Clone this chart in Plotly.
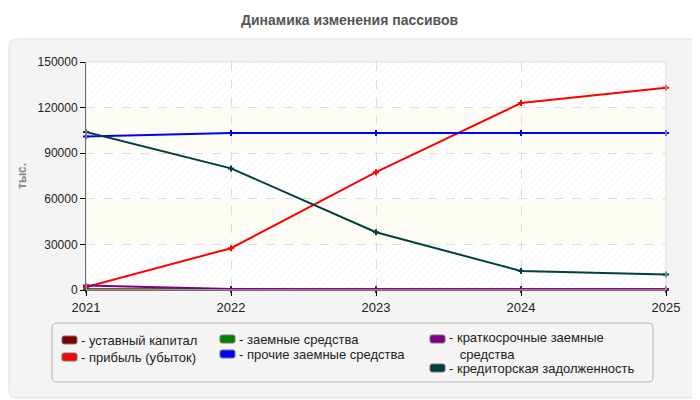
import plotly.graph_objects as go

# chart data
years = [2021, 2022, 2023, 2024, 2025]
series_names = [
    "уставный капитал",
    "прибыль (убыток)",
    "заемные средства",
    "прочие заемные средства",
    "краткосрочные заемные средства",
    "кредиторская задолженность",
]
ustavny = [500, 500, 500, 500, 500]
pribyl = [2000, 27500, 77500, 123000, 133000]
zaemnye = [0, 0, 0, 0, 0]
prochie = [101000, 103300, 103300, 103300, 103300]
kratkosrochnye = [3000, 600, 500, 500, 500]
kreditorskaya = [104000, 80000, 38000, 12500, 10200]
y_ticks = [0, 30000, 60000, 90000, 120000, 150000]

series_values = [ustavny, pribyl, zaemnye, prochie, kratkosrochnye, kreditorskaya]
colors = ["#800000", "#ff0000", "#008000", "#0000ff", "#800080", "#004040"]

FONT = "Liberation Sans, Arial, sans-serif"

# page offset of the plot div (browser body margin)
OFF = 8
# plot area in page pixels (700x400 window)
L, R, T, B = 86, 666, 62, 290


def px(x):
    return (x - L) / (R - L)


def py(y):
    return (B - y) / (B - T)


def rounded(x0, y0, x1, y1, r):
    pts = [
        ("M", x0 + r, y0), ("L", x1 - r, y0), ("Q", x1, y0, x1, y0 + r),
        ("L", x1, y1 - r), ("Q", x1, y1, x1 - r, y1), ("L", x0 + r, y1),
        ("Q", x0, y1, x0, y1 - r), ("L", x0, y0 + r), ("Q", x0, y0, x0 + r, y0),
    ]
    out = []
    for p in pts:
        cmd = p[0]
        coords = p[1:]
        s = []
        for i in range(0, len(coords), 2):
            s.append(f"{px(coords[i]):.5f},{py(coords[i + 1]):.5f}")
        out.append(cmd + " " + " ".join(s))
    return " ".join(out) + " Z"


fig = go.Figure()

# hatched bands (every other band between y ticks)
for i in range(0, len(y_ticks) - 1, 2):
    lo, hi = y_ticks[i], y_ticks[i + 1]
    fig.add_trace(go.Scatter(
        x=[years[0], years[-1], years[-1], years[0], years[0]],
        y=[lo, lo, hi, hi, lo],
        mode="lines", line=dict(width=0),
        fill="toself", fillcolor="rgba(0,0,0,0)",
        fillpattern=dict(shape="/", fgcolor="#dedede", bgcolor="rgba(0,0,0,0)",
                         size=5, solidity=0.15),
        showlegend=False, hoverinfo="skip",
    ))

for name, vals, col in zip(series_names, series_values, colors):
    fig.add_trace(go.Scatter(
        x=years, y=vals, mode="lines+markers", name=name,
        line=dict(color=col, width=2),
        marker=dict(symbol="cross", size=5, color=col),
        showlegend=False,
    ))

shapes = [
    # outer panel
    dict(type="path", xref="paper", yref="paper", layer="below",
         path=rounded(OFF + 1, 39, 698, 398, 8), fillcolor="#f4f4f4",
         line=dict(color="#e0e0e0", width=1)),
    # plot area background
    dict(type="rect", xref="paper", yref="paper", layer="below",
         x0=0, x1=1, y0=0, y1=1, fillcolor="#ffffff", line=dict(width=0)),
    # plot area frame (top/right light)
    dict(type="rect", xref="paper", yref="paper", layer="above",
         x0=0, x1=1, y0=0, y1=1, line=dict(color="#dddddd", width=1)),
    # legend box
    dict(type="path", xref="paper", yref="paper", layer="above",
         path=rounded(52, 323, 653, 382, 5), fillcolor="#f4f4f4",
         line=dict(color="#b4b4b4", width=1)),
]

# plain (cream) bands
for i in range(1, len(y_ticks) - 1, 2):
    shapes.append(dict(type="rect", xref="x", yref="y", layer="below",
                       x0=years[0], x1=years[-1], y0=y_ticks[i], y1=y_ticks[i + 1],
                       fillcolor="#fdfdf5", line=dict(width=0)))

# legend layout: (swatch x, text y, wrapped label)
legend_pos = [
    (62, 340, None),
    (62, 357, None),
    (220, 339, None),
    (220, 354, None),
    (430, 339, "краткосрочные заемные<br>   средства"),
    (430, 368, None),
]
annotations = []
for (sx, sy, txt), name, col in zip(legend_pos, series_names, colors):
    shapes.append(dict(type="path", xref="paper", yref="paper", layer="above",
                       path=rounded(sx, sy - 4, sx + 15, sy + 4, 2),
                       fillcolor=col, line=dict(color="#777777", width=1)))
    label = txt if txt else name
    ty = sy if not txt else sy + 7
    annotations.append(dict(
        x=px(sx + 17), y=py(ty), xref="paper", yref="paper",
        text="- " + label, showarrow=False, xanchor="left", yanchor="middle",
        align="left", font=dict(family=FONT, size=13, color="#222222"),
    ))

annotations.append(dict(
    x=px(350), y=py(20), xref="paper", yref="paper",
    text="<b>Динамика изменения пассивов</b>", showarrow=False,
    xanchor="center", yanchor="middle",
    font=dict(family=FONT, size=14, color="#555555"),
))
annotations.append(dict(
    x=px(22), y=0.5, xref="paper", yref="paper", textangle=-90,
    text="<b>тыс.</b>", showarrow=False, xanchor="center", yanchor="middle",
    font=dict(family=FONT, size=12, color="#888888"),
))

fig.update_layout(
    width=700 - OFF, height=400 - OFF,
    margin=dict(l=L - OFF, r=700 - R, t=T - OFF, b=400 - B),
    paper_bgcolor="#ffffff", plot_bgcolor="rgba(0,0,0,0)",
    font=dict(family=FONT, size=12, color="#222222"),
    showlegend=False,
    shapes=shapes, annotations=annotations,
    xaxis=dict(
        range=[years[0], years[-1]], tickvals=years, ticktext=[str(y) for y in years],
        showgrid=True, gridcolor="#dddddd", griddash="dash", gridwidth=1,
        showline=True, linecolor="#000000", linewidth=1,
        ticks="outside", ticklen=5, tickcolor="#000000",
        zeroline=False, tickfont=dict(size=13),
    ),
    yaxis=dict(
        range=[y_ticks[0], y_ticks[-1]], tickvals=y_ticks, tickformat="d",
        showgrid=True, gridcolor="#dddddd", griddash="dash", gridwidth=1,
        showline=True, linecolor="#000000", linewidth=1,
        ticks="outside", ticklen=5, tickcolor="#000000",
        zeroline=False, tickfont=dict(size=12),
    ),
)

fig.update_traces(cliponaxis=False, selector=dict(mode="lines+markers"))

fig.write_html("out.html")
